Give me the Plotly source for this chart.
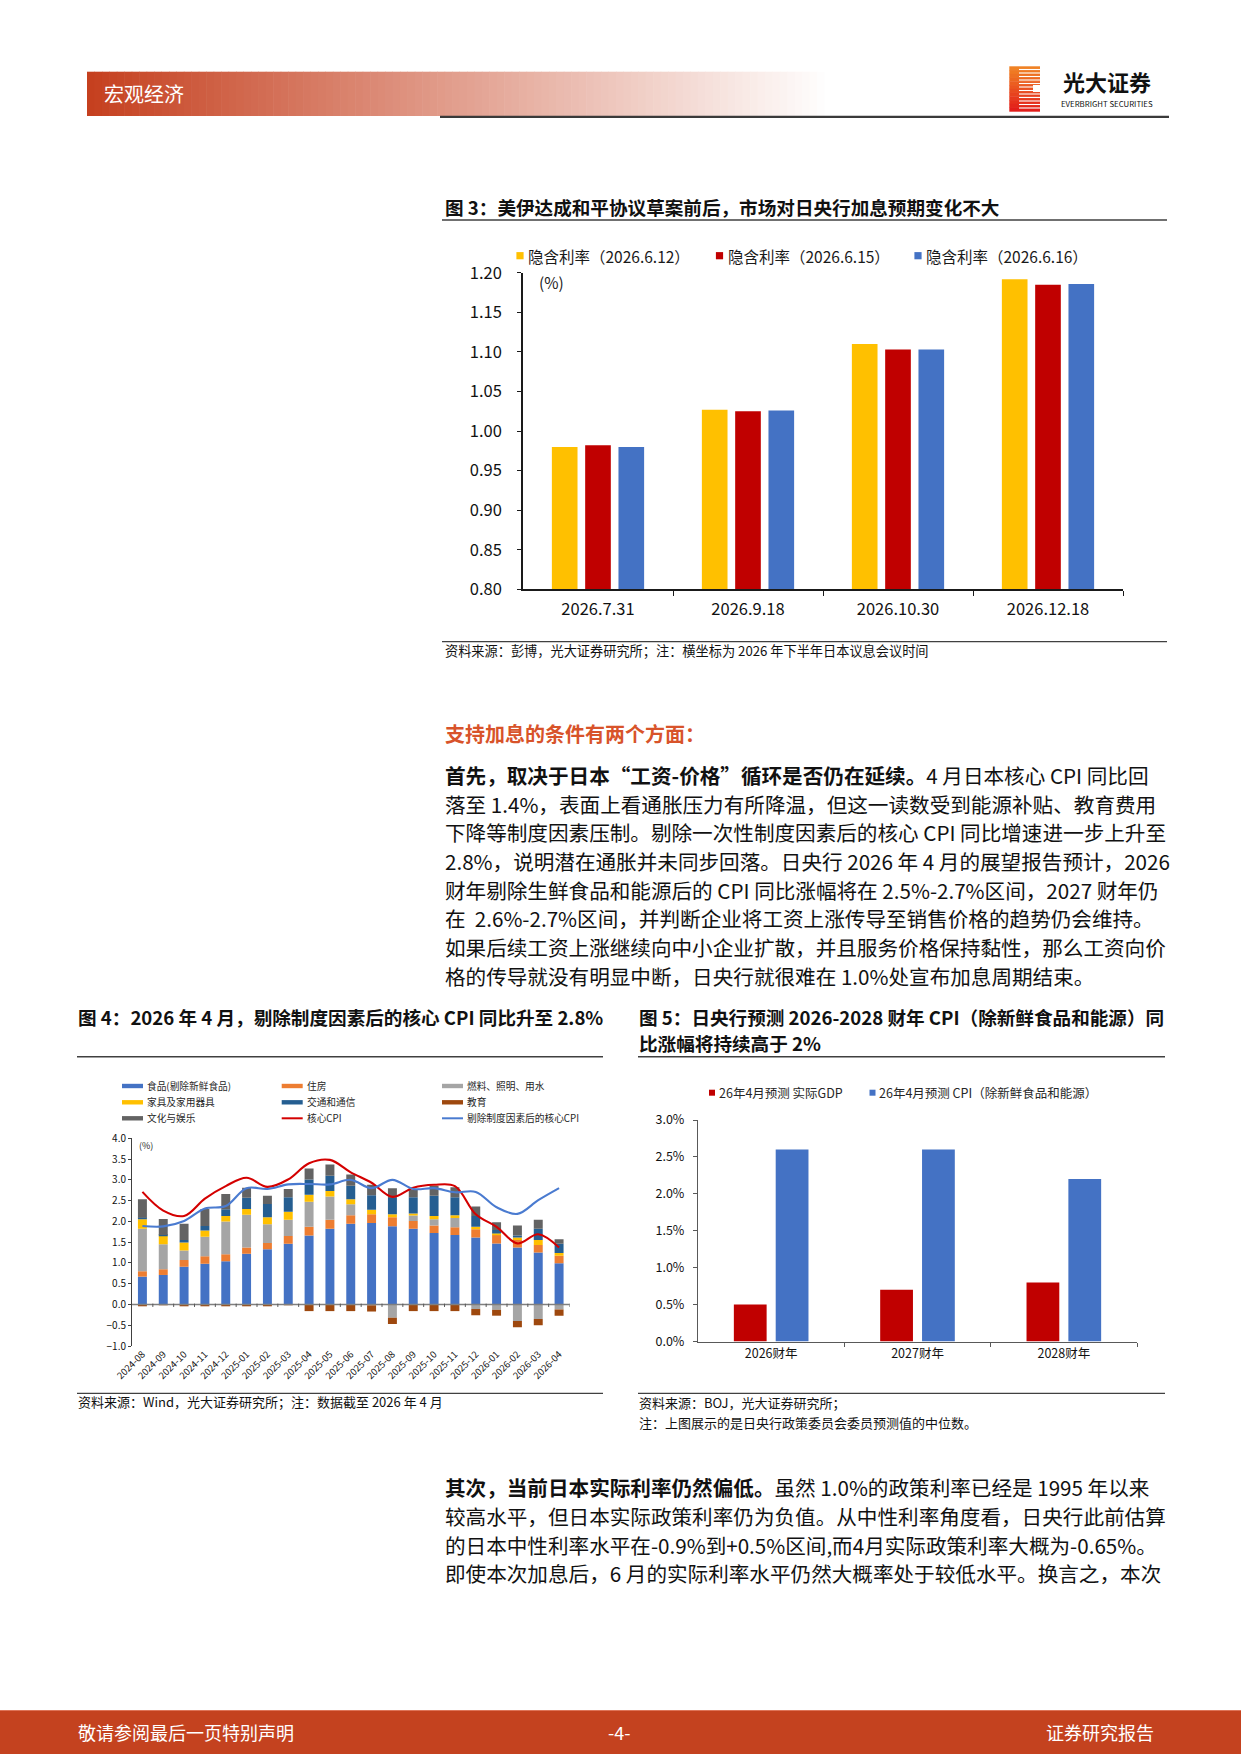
import plotly.graph_objects as go

W, H = 1241, 1754
FONT = "Noto Sans CJK SC"

# ---------------- 图3：隐含利率 ----------------
f3_dates = ["2026.7.31", "2026.9.18", "2026.10.30", "2026.12.18"]
f3_names = ["隐含利率（2026.6.12）", "隐含利率（2026.6.15）", "隐含利率（2026.6.16）"]
f3_0612 = [0.980, 1.027, 1.110, 1.192]
f3_0615 = [0.982, 1.025, 1.103, 1.185]
f3_0616 = [0.980, 1.026, 1.103, 1.186]
f3_colors = ["#FFC000", "#C00000", "#4472C4"]

# ---------------- 图4：核心CPI拆分 ----------------
f4_months = ["2024-08", "2024-09", "2024-10", "2024-11", "2024-12", "2025-01", "2025-02",
             "2025-03", "2025-04", "2025-05", "2025-06", "2025-07", "2025-08", "2025-09",
             "2025-10", "2025-11", "2025-12", "2026-01", "2026-02", "2026-03", "2026-04"]
f4_food = [0.67, 0.71, 0.91, 0.98, 1.04, 1.22, 1.33, 1.46, 1.66, 1.82, 1.94, 1.96, 1.88, 1.82,
           1.72, 1.67, 1.61, 1.47, 1.37, 1.25, 0.99]
f4_housing = [0.13, 0.14, 0.16, 0.18, 0.17, 0.15, 0.15, 0.19, 0.21, 0.22, 0.21, 0.21, 0.22, 0.19,
              0.18, 0.19, 0.20, 0.21, 0.18, 0.18, 0.18]
f4_fuel = [1.02, 0.60, 0.23, 0.47, 0.79, 0.79, 0.45, 0.39, 0.60, 0.56, 0.26, -0.02, -0.32, 0.13,
           0.15, 0.22, -0.11, -0.13, -0.40, -0.35, -0.12]
f4_furniture = [0.23, 0.21, 0.19, 0.15, 0.13, 0.14, 0.17, 0.19, 0.17, 0.13, 0.12, 0.11, 0.07, 0.05,
                0.08, 0.07, 0.06, 0.03, 0.06, 0.12, 0.07]
f4_transport = [0.04, 0.01, 0.06, 0.11, 0.16, 0.27, 0.32, 0.35, 0.37, 0.37, 0.33, 0.35, 0.39, 0.39,
                0.49, 0.43, 0.26, 0.08, 0.05, 0.27, 0.22]
f4_education = [-0.03, -0.02, -0.03, -0.03, -0.03, -0.03, -0.03, -0.02, -0.16, -0.16, -0.16, -0.15,
                -0.15, -0.16, -0.16, -0.16, -0.15, -0.14, -0.15, -0.15, -0.15]
f4_culture = [0.44, 0.39, 0.39, 0.41, 0.37, 0.24, 0.20, 0.20, 0.26, 0.27, 0.27, 0.25, 0.24, 0.19,
              0.24, 0.24, 0.23, 0.19, 0.24, 0.22, 0.11]
f4_core = [2.71, 2.26, 2.13, 2.55, 2.85, 3.05, 2.83, 3.01, 3.40, 3.48, 3.18, 2.93, 2.59, 2.81,
           2.88, 2.85, 2.17, 1.87, 1.47, 1.69, 1.37]
f4_core_adj = [1.89, 1.88, 2.01, 2.31, 2.37, 2.80, 2.78, 2.89, 2.90, 2.89, 3.00, 2.80, 3.00, 2.78,
               2.80, 2.70, 2.71, 2.34, 2.18, 2.51, 2.80]
f4_bar_names = ["食品(剔除新鲜食品)", "住房", "燃料、照明、用水", "家具及家用器具",
                "交通和通信", "教育", "文化与娱乐"]
f4_line_names = ["核心CPI", "剔除制度因素后的核心CPI"]
f4_bar_colors = ["#4472C4", "#ED7D31", "#A5A5A5", "#FFC000", "#255E91", "#9E480E", "#636363"]
f4_line_colors = ["#D40000", "#4A7BD0"]

# ---------------- 图5：日央行预测 ----------------
f5_years = ["2026财年", "2027财年", "2028财年"]
f5_names = ["26年4月预测 实际GDP", "26年4月预测 CPI（除新鲜食品和能源）"]
f5_gdp = [0.5, 0.7, 0.8]
f5_cpi = [2.6, 2.6, 2.2]
f5_colors = ["#C00000", "#4472C4"]

# ---------------- 正文 ----------------
para1 = [
    "<b>首先，取决于日本“工资-价格”循环是否仍在延续。</b>4 月日本核心 CPI 同比回",
    "落至 1.4%，表面上看通胀压力有所降温，但这一读数受到能源补贴、教育费用",
    "下降等制度因素压制。剔除一次性制度因素后的核心 CPI 同比增速进一步上升至",
    "2.8%，说明潜在通胀并未同步回落。日央行 2026 年 4 月的展望报告预计，2026",
    "财年剔除生鲜食品和能源后的 CPI 同比涨幅将在 2.5%-2.7%区间，2027 财年仍",
    "在  2.6%-2.7%区间，并判断企业将工资上涨传导至销售价格的趋势仍会维持。",
    "如果后续工资上涨继续向中小企业扩散，并且服务价格保持黏性，那么工资向价",
    "格的传导就没有明显中断，日央行就很难在 1.0%处宣布加息周期结束。",
]
para2 = [
    "<b>其次，当前日本实际利率仍然偏低。</b>虽然 1.0%的政策利率已经是 1995 年以来",
    "较高水平，但日本实际政策利率仍为负值。从中性利率角度看，日央行此前估算",
    "的日本中性利率水平在-0.9%到+0.5%区间,而4月实际政策利率大概为-0.65%。",
    "即使本次加息后，6 月的实际利率水平仍然大概率处于较低水平。换言之，本次",
]


def X(v):
    return v / W


def Y(v):
    return 1 - v / H


shapes, notes = [], []


def rect(x0, y0, x1, y1, color):
    shapes.append(dict(type="rect", xref="paper", yref="paper", x0=X(x0), x1=X(x1),
                       y0=Y(y0), y1=Y(y1), fillcolor=color, line=dict(width=0), layer="above"))


def hline(x0, x1, y, color="#404040", width=1.3):
    shapes.append(dict(type="line", xref="paper", yref="paper", x0=X(x0), x1=X(x1),
                       y0=Y(y), y1=Y(y), line=dict(color=color, width=width), layer="above"))


def text(x, y, s, size, color="#111111", anchor="left"):
    notes.append(dict(x=X(x), y=Y(y), xref="paper", yref="paper", text=s, showarrow=False,
                      xanchor=anchor, yanchor="middle", borderpad=0,
                      font=dict(family=FONT, size=size, color=color)))


def mix(c0, c1, t):
    return "rgb({},{},{})".format(*[round(a + (b - a) * t) for a, b in zip(c0, c1)])


fig = go.Figure()

# ---------------- 页眉 ----------------
n = 100
for k in range(n):
    x0 = 87 + (832 - 87) * k / n
    rect(x0, 71.7, x0 + (832 - 87) / n + 0.6, 116, mix((197, 64, 31), (255, 255, 255), k / (n - 1)))
text(103, 94, "宏观经济", 20, "#FFFFFF")
hline(440, 1169, 116.8, "#3a3a3a", 2.2)

# logo
for k in range(12):
    y0 = 66.3 + 45 * k / 12
    rect(1009.3, y0, 1040, y0 + 45 / 12 + 0.4, mix((240, 130, 36), (226, 30, 26), k / 11))
for k in range(12):
    yy = 69.5 + k * 3.5
    shapes.append(dict(type="line", xref="paper", yref="paper", x0=X(1019), x1=X(1041),
                       y0=Y(yy), y1=Y(yy), line=dict(color="#FFFFFF", width=1.1), layer="above"))
rect(1033, 85, 1041, 92, "#FFFFFF")
text(1107, 81.3, "<b>光大证券</b>", 22, "#111111", "center")
text(1107, 103, "EVERBRIGHT SECURITIES", 7.8, "#111111", "center")

# ---------------- 图3 ----------------
text(444, 206, "<b>图 3：美伊达成和平协议草案前后，市场对日央行加息预期变化不大</b>", 18.6)
hline(442, 1167, 220, "#404040", 1.5)
f3_offsets = [-0.222, 0.0, 0.222]
for name, vals, col, off in zip(f3_names, [f3_0612, f3_0615, f3_0616], f3_colors, f3_offsets):
    fig.add_trace(go.Bar(x=[i + off for i in range(len(f3_dates))], y=vals, width=0.171,
                         name=name, xaxis="x", yaxis="y",
                         marker=dict(color=col, line=dict(width=0))))
for name, col, cx in zip(f3_names, f3_colors, [520, 719.5, 918]):
    rect(cx - 3.6, 255.7 - 3.6, cx + 3.6, 255.7 + 3.6, col)
    text(cx + 7, 255.7, name, 15.5, "#1a1a1a")
text(538, 281.5, "(%)", 15.5, "#1a1a1a")
hline(442, 1167, 641.7, "#404040", 1.3)
text(444, 650.7, "资料来源：彭博，光大证券研究所；注：横坐标为 2026 年下半年日本议息会议时间", 13.2)

# ---------------- 正文一 ----------------
text(444, 733.3, "<b>支持加息的条件有两个方面：</b>", 20, "#D8532A")
for k, line in enumerate(para1):
    text(444, 775 + k * 28.7, line, 20.6)

# ---------------- 图4 ----------------
text(77, 1016.7, "<b>图 4：2026 年 4 月，剔除制度因素后的核心 CPI 同比升至 2.8%</b>", 18.6)
hline(77, 603, 1056.7, "#404040", 1.5)
f4_bars = [f4_food, f4_housing, f4_fuel, f4_furniture, f4_transport, f4_education, f4_culture]
for name, vals, col in zip(f4_bar_names, f4_bars, f4_bar_colors):
    fig.add_trace(go.Bar(x=f4_months, y=vals, name=name, width=0.43, xaxis="x2", yaxis="y2",
                         marker=dict(color=col, line=dict(width=0))))
for name, vals, col in zip(f4_line_names, [f4_core, f4_core_adj], f4_line_colors):
    fig.add_trace(go.Scatter(x=f4_months, y=vals, name=name, mode="lines", xaxis="x2", yaxis="y2",
                             line=dict(color=col, width=2.1, shape="spline", smoothing=1.0)))
# 图4 图例（3×3）
leg_cols = [122, 281.7, 442]
leg_rows = [1086, 1102.3, 1118.3]
for k, (name, col) in enumerate(zip(f4_bar_names + f4_line_names, f4_bar_colors + f4_line_colors)):
    lx, ly = leg_cols[k % 3], leg_rows[k // 3]
    th = 2.2 if k < len(f4_bar_names) else 1.0
    rect(lx, ly - th, lx + 21, ly + th, col)
    text(lx + 24, ly, name, 9.7, "#262626")
text(138, 1145.7, "(%)", 9, "#262626")
shapes.append(dict(type="line", xref="x2 domain", x0=0, x1=1, yref="y2", y0=0, y1=0,
                   line=dict(color="#7F7F7F", width=1.6), layer="above"))
for i in range(len(f4_months)):
    shapes.append(dict(type="line", xref="x2", yref="y2", x0=i + 0.5, x1=i + 0.5, y0=-0.06, y1=0.02,
                       line=dict(color="#595959", width=1), layer="above"))
hline(77, 603, 1393.3, "#404040", 1.3)
text(77, 1401.7, "资料来源：Wind，光大证券研究所；注：数据截至 2026 年 4 月", 13)

# ---------------- 图5 ----------------
text(638, 1016.7, "<b>图 5：日央行预测 2026-2028 财年 CPI（除新鲜食品和能源）同</b>", 18.6)
text(638, 1042.5, "<b>比涨幅将持续高于 2%</b>", 18.6)
hline(638, 1165, 1056.7, "#404040", 1.5)
for name, vals, col, off in zip(f5_names, [f5_gdp, f5_cpi], f5_colors, [-0.143, 0.143]):
    fig.add_trace(go.Bar(x=[i + off for i in range(len(f5_years))], y=vals, width=0.224, name=name,
                         xaxis="x3", yaxis="y3", marker=dict(color=col, line=dict(width=0))))
for name, col, cx in zip(f5_names, f5_colors, [712, 872.5]):
    rect(cx - 3, 1092.7 - 3, cx + 3, 1092.7 + 3, col)
    text(cx + 5.5, 1092.7, name, 12.5, "#262626")
hline(638, 1165, 1393.3, "#404040", 1.3)
text(638, 1402, "资料来源：BOJ，光大证券研究所；", 13)
text(638, 1422, "注：上图展示的是日央行政策委员会委员预测值的中位数。", 13)

# ---------------- 正文二 ----------------
for k, line in enumerate(para2):
    text(444, 1486.7 + k * 28.9, line, 20.6)

# ---------------- 页脚 ----------------
rect(0, 1710, W, H, "#C4421F")
hline(0, W, 1710.5, "#DE7458", 1)
text(77, 1731.7, "敬请参阅最后一页特别声明", 18, "#FFFFFF")
text(619, 1731.7, "-4-", 18, "#FFFFFF", "center")
text(1155, 1731.7, "证券研究报告", 18, "#FFFFFF", "right")

tick_font = dict(family=FONT, color="#111111")
fig.update_layout(
    template="none",
    width=W, height=H,
    margin=dict(l=0, r=0, t=0, b=0),
    paper_bgcolor="white",
    plot_bgcolor="rgba(0,0,0,0)",
    showlegend=False,
    barmode="relative",
    hovermode=False,
    font=dict(family=FONT),
    xaxis=dict(domain=[X(523), X(1123)], anchor="y", range=[-0.5, len(f3_dates) - 0.5],
               tickmode="array", tickvals=list(range(len(f3_dates))), ticktext=f3_dates,
               ticks="", ticklabelstandoff=4, showline=True, linecolor="#1a1a1a", linewidth=1.6,
               showgrid=False, zeroline=False, tickfont=dict(size=16.5, **tick_font),
               minor=dict(tickmode="array", tickvals=[i + 0.5 for i in range(len(f3_dates))],
                          ticks="outside", ticklen=5, tickcolor="#1a1a1a", tickwidth=1.3,
                          showgrid=False)),
    yaxis=dict(domain=[Y(589.3), Y(272.8)], anchor="x", range=[0.8, 1.2], tick0=0.8, dtick=0.05,
               tickformat=".2f", ticks="outside", ticklen=4, tickcolor="#1a1a1a",
               ticklabelstandoff=12, showline=True, linecolor="#1a1a1a", linewidth=1.6,
               showgrid=False, zeroline=False, tickfont=dict(size=16.5, **tick_font)),
    xaxis2=dict(domain=[X(132), X(569.5)], anchor="y2", type="category",
                range=[-0.5, len(f4_months) - 0.5], tickangle=-45, ticks="", showline=False,
                showgrid=False, zeroline=False, tickfont=dict(size=9.5, **tick_font)),
    yaxis2=dict(domain=[Y(1346), Y(1138.3)], anchor="x2", range=[-1, 4], tick0=-1, dtick=0.5,
                tickformat=".1f", ticks="outside", ticklen=3, tickcolor="#404040",
                showline=True, linecolor="#404040", linewidth=1, showgrid=False, zeroline=False,
                tickfont=dict(size=10, **tick_font)),
    xaxis3=dict(domain=[X(698), X(1137)], anchor="y3", range=[-0.5, len(f5_years) - 0.5],
                tickmode="array", tickvals=list(range(len(f5_years))), ticktext=f5_years,
                ticks="", showline=True, linecolor="#595959", linewidth=1.3, showgrid=False,
                zeroline=False, tickfont=dict(size=12.5, **tick_font),
                minor=dict(tickmode="array", tickvals=[i + 0.5 for i in range(len(f5_years))],
                           ticks="outside", ticklen=4, tickcolor="#595959", tickwidth=1,
                           showgrid=False)),
    yaxis3=dict(domain=[Y(1341.5), Y(1120)], anchor="x3", range=[0, 3], tick0=0, dtick=0.5,
                tickformat=".1f", ticksuffix="%", ticks="outside", ticklen=4,
                tickcolor="#595959", ticklabelstandoff=6, showline=True, linecolor="#595959",
                linewidth=1.3, showgrid=False, zeroline=False,
                tickfont=dict(size=12.5, **tick_font)),
    shapes=shapes,
    annotations=notes,
)

fig.write_html("out.html", config={"displayModeBar": False},
               post_script="document.body.style.margin='0';")
